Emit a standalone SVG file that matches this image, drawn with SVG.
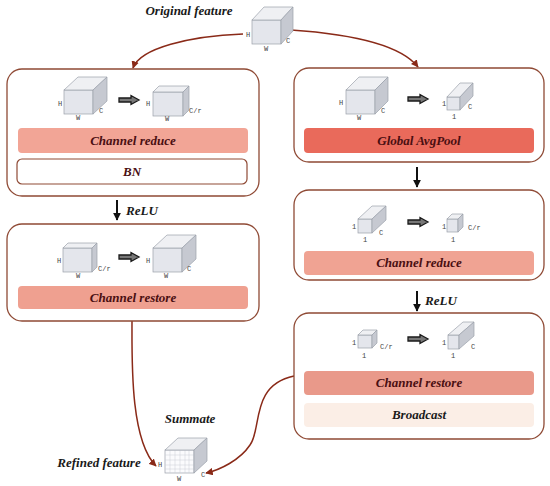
<svg xmlns="http://www.w3.org/2000/svg" width="550" height="486" viewBox="0 0 550 486">
<defs>
<style>
.box{fill:#fff;stroke:#8f4a35;stroke-width:1.3}
.lbl{font-family:"Liberation Serif",serif;font-weight:bold;font-style:italic;font-size:13px;fill:#1a1a1a;text-anchor:middle}
.bar{font-family:"Liberation Serif",serif;font-weight:bold;font-style:italic;font-size:13px;fill:#4a0f12;text-anchor:middle}
.dim{font-family:"Liberation Mono",monospace;font-size:7px;fill:#444}
.fr{fill:#e4e6ec;stroke:#9ba0aa;stroke-width:0.7}
.tp{fill:#eff0f3;stroke:#9ba0aa;stroke-width:0.7}
.sd{fill:#c6c9d1;stroke:#9ba0aa;stroke-width:0.7}
.con{fill:none;stroke:#8a2a18;stroke-width:1.5}
.harr{fill:#777;stroke:#1a1a1a;stroke-width:1.3}
.varr{stroke:#111;stroke-width:2}
</style>
<marker id="ah" viewBox="0 0 10 10" refX="9" refY="5" markerWidth="5" markerHeight="5" orient="auto"><path d="M0,0 L10,5 L0,10 z" fill="#8a2a18"/></marker>
<marker id="bh" viewBox="0 0 10 10" refX="9" refY="5" markerWidth="4" markerHeight="4" orient="auto"><path d="M0,0 L10,5 L0,10 z" fill="#111"/></marker>
</defs>
<rect width="550" height="486" fill="#fff"/>

<g id="connectors">
<path class="con" d="M243,34 C190,36 140,48 133,68" marker-end="url(#ah)"/>
<path class="con" d="M291,30 C350,34 400,44 418,67" marker-end="url(#ah)"/>
<path class="con" d="M132,321 C132,360 130,440 156,466" marker-end="url(#ah)"/>
<path class="con" d="M294,376 C250,385 262,430 250,445 C240,460 220,470 206,473" marker-end="url(#ah)"/>
<line class="varr" x1="117" y1="200" x2="117" y2="220" marker-end="url(#bh)"/>
<line class="varr" x1="417" y1="167" x2="417" y2="187" marker-end="url(#bh)"/>
<line class="varr" x1="417" y1="291" x2="417" y2="311" marker-end="url(#bh)"/>
</g>

<g id="original-feature">
<text class="lbl" x="189" y="15">Original feature</text>
<rect class="fr" x="252" y="20" width="29" height="24"/>
<polygon class="tp" points="252,20 264,7 293,7 281,20"/>
<polygon class="sd" points="281,20 293,7 293,31 281,44"/>
<text class="dim" x="246" y="37">H</text>
<text class="dim" x="264" y="51">W</text>
<text class="dim" x="286" y="43">C</text>
</g>

<g id="left-block1">
<rect class="box" x="7" y="69" width="252" height="127" rx="15"/>
<rect class="fr" x="64" y="90" width="29" height="24"/>
<polygon class="tp" points="64,90 78,77 107,77 93,90"/>
<polygon class="sd" points="93,90 107,77 107,101 93,114"/>
<text class="dim" x="58" y="106">H</text>
<text class="dim" x="76" y="120">W</text>
<text class="dim" x="99" y="113">C</text>
<path class="harr" d="M119,98 L131,98 L131,95.5 L139,100 L131,104.5 L131,102 L119,102 z"/>
<rect class="fr" x="153" y="92" width="30" height="24"/>
<polygon class="tp" points="153,92 159,86 189,86 183,92"/>
<polygon class="sd" points="183,92 189,86 189,110 183,116"/>
<text class="dim" x="146" y="106">H</text>
<text class="dim" x="165" y="121">W</text>
<text class="dim" x="189" y="113">C/r</text>
<rect x="18" y="128" width="230" height="25" rx="4" fill="#f2a596"/>
<text class="bar" x="133" y="145">Channel reduce</text>
<rect x="17" y="159" width="230" height="25" rx="5" fill="#fff" stroke="#8f4a35" stroke-width="1.2"/>
<text class="bar" x="132" y="176">BN</text>
</g>

<text class="lbl" x="142" y="215">ReLU</text>

<g id="left-block2">
<rect class="box" x="7" y="224" width="252" height="97" rx="15"/>
<rect class="fr" x="63" y="248" width="29" height="24"/>
<polygon class="tp" points="63,248 68,243 97,243 92,248"/>
<polygon class="sd" points="92,248 97,243 97,267 92,272"/>
<text class="dim" x="57" y="263">H</text>
<text class="dim" x="76" y="278">W</text>
<text class="dim" x="98" y="271">C/r</text>
<path class="harr" d="M119,255 L131,255 L131,252.5 L139,257 L131,261.5 L131,259 L119,259 z"/>
<rect class="fr" x="153" y="248" width="29" height="24"/>
<polygon class="tp" points="153,248 167,235 196,235 182,248"/>
<polygon class="sd" points="182,248 196,235 196,259 182,272"/>
<text class="dim" x="146" y="263">H</text>
<text class="dim" x="164" y="278">W</text>
<text class="dim" x="187" y="271">C</text>
<rect x="18" y="286" width="230" height="23" rx="4" fill="#efa090"/>
<text class="bar" x="133" y="302">Channel restore</text>
</g>

<g id="right-block1">
<rect class="box" x="294" y="68" width="250" height="94" rx="15"/>
<rect class="fr" x="346" y="90" width="29" height="24"/>
<polygon class="tp" points="346,90 359,77 388,77 375,90"/>
<polygon class="sd" points="375,90 388,77 388,101 375,114"/>
<text class="dim" x="339" y="105">H</text>
<text class="dim" x="357" y="120">W</text>
<text class="dim" x="381" y="113">C</text>
<path class="harr" d="M408,97 L420,97 L420,94.5 L428,99 L420,103.5 L420,101 L408,101 z"/>
<rect class="fr" x="447" y="97" width="13" height="13"/>
<polygon class="tp" points="447,97 460,83 473,83 460,97"/>
<polygon class="sd" points="460,97 473,83 473,96 460,110"/>
<text class="dim" x="442" y="106">1</text>
<text class="dim" x="452" y="119">1</text>
<text class="dim" x="468" y="109">C</text>
<rect x="304" y="128" width="230" height="25" rx="4" fill="#e96a5b"/>
<text class="bar" x="419" y="145">Global AvgPool</text>
</g>

<g id="right-block2">
<rect class="box" x="294" y="190" width="250" height="90" rx="15"/>
<rect class="fr" x="358" y="219" width="14" height="14"/>
<polygon class="tp" points="358,219 372,206 386,206 372,219"/>
<polygon class="sd" points="372,219 386,206 386,220 372,233"/>
<text class="dim" x="352" y="229">1</text>
<text class="dim" x="363" y="242">1</text>
<text class="dim" x="379" y="235">C</text>
<path class="harr" d="M408,220 L420,220 L420,217.5 L428,222 L420,226.5 L420,224 L408,224 z"/>
<rect class="fr" x="447" y="219" width="11" height="13"/>
<polygon class="tp" points="447,219 452,214 463,214 458,219"/>
<polygon class="sd" points="458,219 463,214 463,227 458,232"/>
<text class="dim" x="442" y="229">1</text>
<text class="dim" x="451" y="242">1</text>
<text class="dim" x="468" y="230">C/r</text>
<rect x="304" y="251" width="230" height="24" rx="4" fill="#f0a393"/>
<text class="bar" x="419" y="267">Channel reduce</text>
</g>

<text class="lbl" x="441" y="305">ReLU</text>

<g id="right-block3">
<rect class="box" x="294" y="313" width="250" height="126" rx="15"/>
<rect class="fr" x="358" y="335" width="14" height="13"/>
<polygon class="tp" points="358,335 363,330 377,330 372,335"/>
<polygon class="sd" points="372,335 377,330 377,343 372,348"/>
<text class="dim" x="352" y="345">1</text>
<text class="dim" x="362" y="358">1</text>
<text class="dim" x="380" y="349">C/r</text>
<path class="harr" d="M408,337 L420,337 L420,334.5 L428,339 L420,343.5 L420,341 L408,341 z"/>
<rect class="fr" x="448" y="335" width="11" height="14"/>
<polygon class="tp" points="448,335 463,322 474,322 459,335"/>
<polygon class="sd" points="459,335 474,322 474,336 459,349"/>
<text class="dim" x="442" y="345">1</text>
<text class="dim" x="451" y="358">1</text>
<text class="dim" x="471" y="349">C</text>
<rect x="304" y="371" width="230" height="24" rx="4" fill="#e9998a"/>
<text class="bar" x="419" y="387">Channel restore</text>
<rect x="304" y="403" width="230" height="24" rx="4" fill="#fbeee6"/>
<text class="lbl" x="419" y="419">Broadcast</text>
</g>

<g id="refined-feature">
<text class="lbl" x="190" y="423">Summate</text>
<text class="lbl" x="99" y="467">Refined feature</text>
<rect x="165" y="450" width="29" height="23" fill="#fbfbfd" stroke="#9ba0aa" stroke-width="0.7"/>
<path d="M170,450V473M175,450V473M180,450V473M185,450V473M189,450V473M165,455H194M165,460H194M165,465H194M165,469H194" stroke="#c9ccd4" stroke-width="0.5"/>
<polygon class="tp" points="165,450 178,438 207,438 194,450"/>
<polygon class="sd" points="194,450 207,438 207,461 194,473"/>
<text class="dim" x="158" y="467">H</text>
<text class="dim" x="177" y="481">W</text>
<text class="dim" x="201" y="477">C</text>
</g>
</svg>
